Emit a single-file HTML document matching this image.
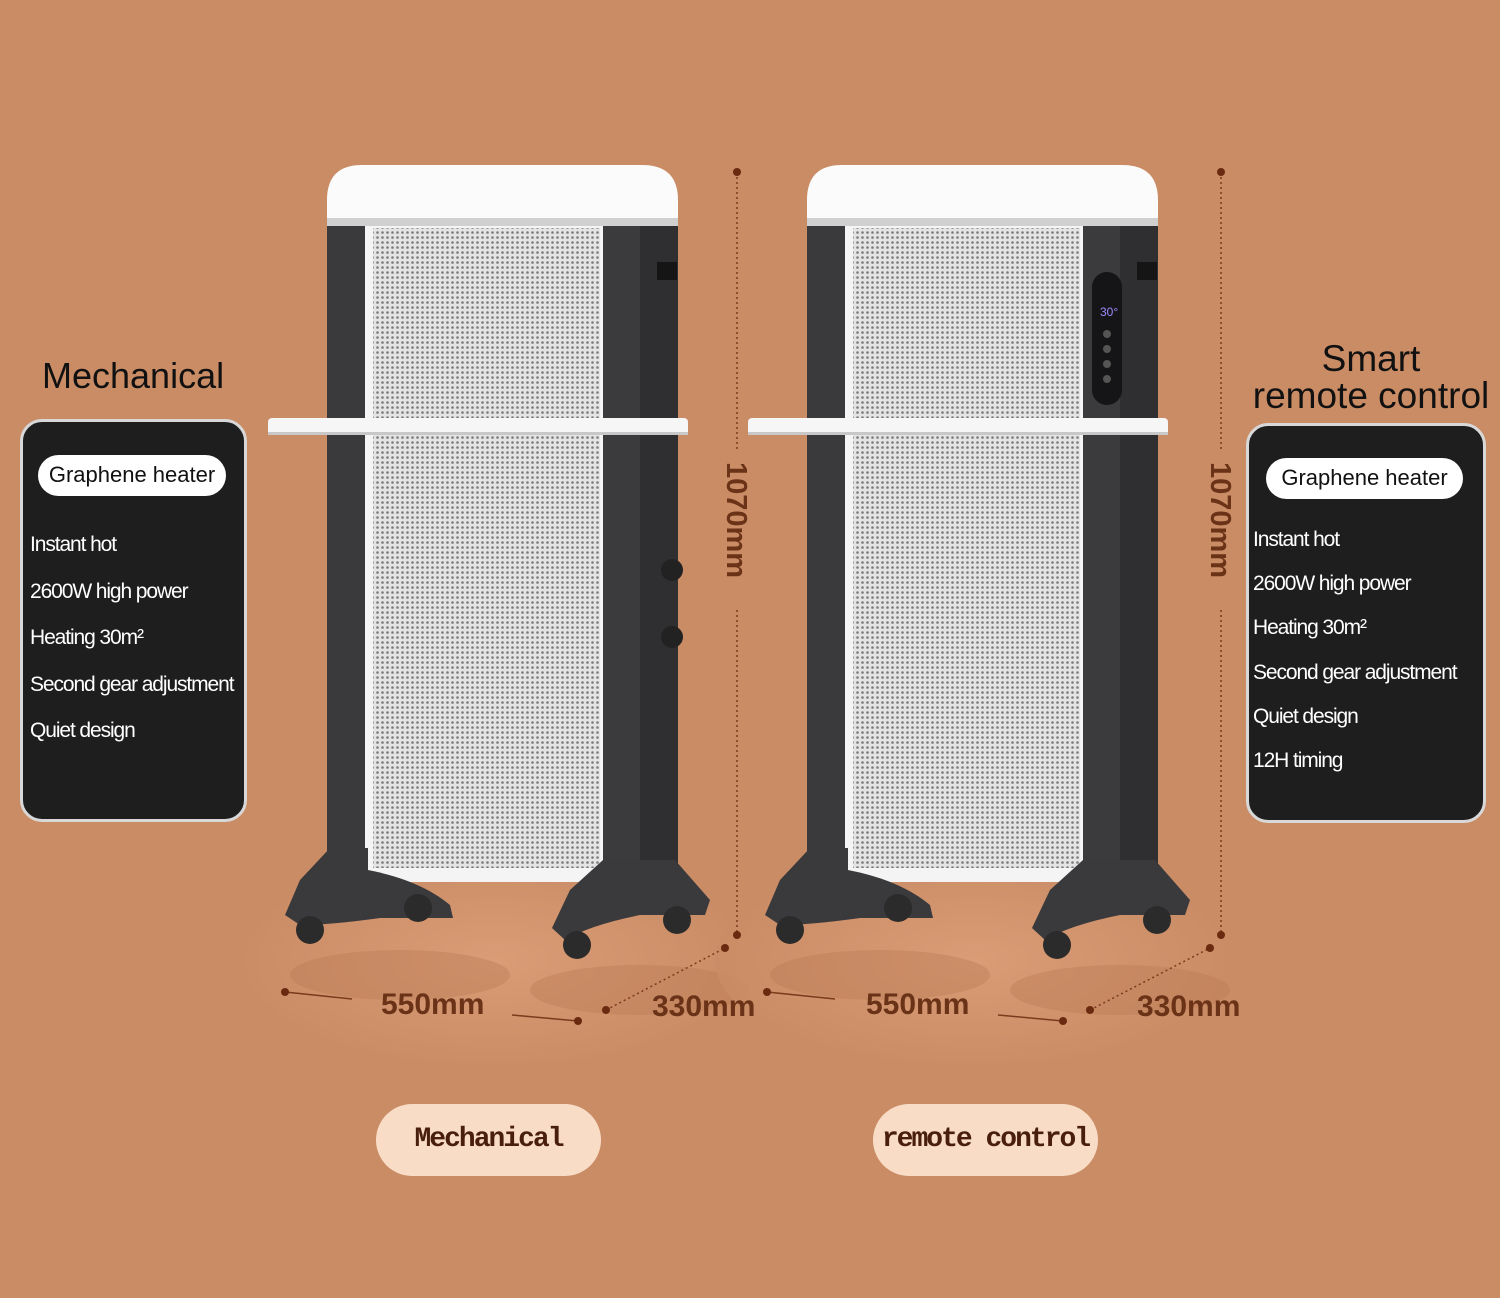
<!DOCTYPE html>
<html><head><meta charset="utf-8">
<style>
html,body{margin:0;padding:0}
body{width:1500px;height:1298px;position:relative;overflow:hidden;background:#ca8c65;font-family:"Liberation Sans",sans-serif}
.abs{position:absolute}
.card{position:absolute;background:#1e1e1e;border-radius:22px;border:3px solid #d8d8d8;box-sizing:border-box}
.pill{position:absolute;background:#fff;border-radius:22px;color:#111;font-size:22px;text-align:center;line-height:40px;white-space:nowrap}
.item{position:absolute;color:#fff;font-size:21px;letter-spacing:-1.1px;white-space:nowrap}
.dim{position:absolute;color:#6a3217;font-weight:bold;font-size:30px}
.bp{position:absolute;background:#f8dcc6;border-radius:36px;color:#4a1e0c;font-family:"Liberation Mono",monospace;font-size:28px;font-weight:bold;text-align:center;line-height:72px;letter-spacing:-2px;white-space:nowrap}
</style></head><body>
<svg class="abs" style="left:0;top:0" width="1500" height="1298">
<defs>
<pattern id="dots" width="5" height="5" patternUnits="userSpaceOnUse"><rect width="5" height="5" fill="#e4e4e4"/><circle cx="2.5" cy="2.5" r="1.3" fill="#7a7a7a"/></pattern>
<radialGradient id="fl" cx="0.5" cy="0.5" r="0.5"><stop offset="0" stop-color="#dda07a"/><stop offset="1" stop-color="#ca8c65"/></radialGradient>
<g id="heater">
<ellipse cx="495" cy="960" rx="260" ry="110" fill="url(#fl)" opacity="0.8"/>
<ellipse cx="400" cy="975" rx="110" ry="25" fill="#b97a55" opacity="0.4"/>
<ellipse cx="640" cy="990" rx="110" ry="25" fill="#b97a55" opacity="0.4"/>
<rect x="327" y="215" width="42" height="665" fill="#3a3a3c"/>
<rect x="365" y="220" width="245" height="662" fill="#f4f4f4"/>
<rect x="373" y="228" width="227" height="640" fill="url(#dots)"/>
<rect x="603" y="212" width="75" height="675" fill="#3b3b3d"/>
<rect x="640" y="212" width="38" height="675" fill="#2f2f31"/>
<path d="M327 225 V200 Q327 165 362 165 H642 Q678 165 678 200 V225 Z" fill="#fbfbfb"/>
<rect x="327" y="218" width="351" height="8" fill="#d0d0d0"/>
<rect x="657" y="262" width="20" height="18" fill="#151515"/>
<rect x="268" y="418" width="420" height="17" rx="4" fill="#f6f6f6"/>
<rect x="268" y="432" width="420" height="3" fill="#c8c8c8"/>
<path d="M300 880 L330 848 H368 V870 Q420 880 450 905 L453 918 H380 Q330 925 300 925 L285 915 Z" fill="#3a3a3c"/>
<path d="M570 890 L603 860 H675 L710 900 L705 915 H640 Q590 925 565 940 L552 928 Z" fill="#3a3a3c"/>
<circle cx="310" cy="930" r="14" fill="#2b2b2b"/>
<circle cx="418" cy="908" r="14" fill="#2b2b2b"/>
<circle cx="577" cy="945" r="14" fill="#2b2b2b"/>
<circle cx="677" cy="920" r="14" fill="#2b2b2b"/>
</g>
</defs>
<use href="#heater"/>
<circle cx="672" cy="570" r="11" fill="#222"/>
<circle cx="672" cy="637" r="11" fill="#222"/>
<use href="#heater" transform="translate(480,0)"/>
<rect x="1092" y="272" width="30" height="133" rx="15" fill="#151517"/>
<text x="1100" y="316" fill="#9c8cff" font-size="12" font-family="Liberation Sans">30°</text>
<circle cx="1107" cy="334" r="4" fill="#555"/><circle cx="1107" cy="349" r="4" fill="#555"/><circle cx="1107" cy="364" r="4" fill="#555"/><circle cx="1107" cy="379" r="4" fill="#555"/>
<g stroke="#7a3a1c" stroke-width="1.5" stroke-dasharray="2 3" fill="none">
<line x1="737" y1="172" x2="737" y2="450"/><line x1="737" y1="610" x2="737" y2="935"/>
<line x1="1221" y1="172" x2="1221" y2="450"/><line x1="1221" y1="610" x2="1221" y2="935"/>
<line x1="606" y1="1010" x2="725" y2="948"/><line x1="1090" y1="1010" x2="1210" y2="948"/>
</g>
<g stroke="#7a3a1c" stroke-width="1.5">
<line x1="285" y1="992" x2="352" y2="999"/><line x1="512" y1="1015" x2="578" y2="1021"/>
<line x1="767" y1="992" x2="835" y2="999"/><line x1="998" y1="1015" x2="1063" y2="1021"/>
</g>
<g fill="#6a2a10">
<circle cx="737" cy="172" r="4"/><circle cx="737" cy="935" r="4"/><circle cx="1221" cy="172" r="4"/><circle cx="1221" cy="935" r="4"/>
<circle cx="285" cy="992" r="4"/><circle cx="578" cy="1021" r="4"/><circle cx="606" cy="1010" r="4"/><circle cx="725" cy="948" r="4"/>
<circle cx="767" cy="992" r="4"/><circle cx="1063" cy="1021" r="4"/><circle cx="1090" cy="1010" r="4"/><circle cx="1210" cy="948" r="4"/>
</g>
<text transform="translate(727,462) rotate(90)" fill="#6a3217" font-size="29" font-weight="bold" font-family="Liberation Sans">1070mm</text>
<text transform="translate(1211,462) rotate(90)" fill="#6a3217" font-size="29" font-weight="bold" font-family="Liberation Sans">1070mm</text>
</svg>

<div class="dim" style="left:381px;top:988px">550mm</div>
<div class="dim" style="left:652px;top:990px">330mm</div>
<div class="dim" style="left:866px;top:988px">550mm</div>
<div class="dim" style="left:1137px;top:990px">330mm</div>

<div class="abs" style="left:42px;top:355px;font-size:36px;color:#111">Mechanical</div>
<div class="card" style="left:20px;top:419px;width:227px;height:403px"></div>
<div class="pill" style="left:38px;top:455px;width:188px;height:41px">Graphene heater</div>
<div class="item" style="left:30px;top:533px">Instant hot</div>
<div class="item" style="left:30px;top:580px">2600W high power</div>
<div class="item" style="left:30px;top:626px">Heating 30m²</div>
<div class="item" style="left:30px;top:673px">Second gear adjustment</div>
<div class="item" style="left:30px;top:719px">Quiet design</div>

<div class="abs" style="left:1236px;top:340px;width:270px;text-align:center;font-size:37px;color:#111;line-height:37px;white-space:nowrap">Smart<br>remote control</div>
<div class="card" style="left:1246px;top:423px;width:240px;height:400px"></div>
<div class="pill" style="left:1266px;top:458px;width:197px;height:41px">Graphene heater</div>
<div class="item" style="left:1253px;top:528px">Instant hot</div>
<div class="item" style="left:1253px;top:572px">2600W high power</div>
<div class="item" style="left:1253px;top:616px">Heating 30m²</div>
<div class="item" style="left:1253px;top:661px">Second gear adjustment</div>
<div class="item" style="left:1253px;top:705px">Quiet design</div>
<div class="item" style="left:1253px;top:749px">12H timing</div>

<div class="bp" style="left:376px;top:1104px;width:225px;height:72px">Mechanical</div>
<div class="bp" style="left:873px;top:1104px;width:225px;height:72px">remote control</div>
</body></html>
